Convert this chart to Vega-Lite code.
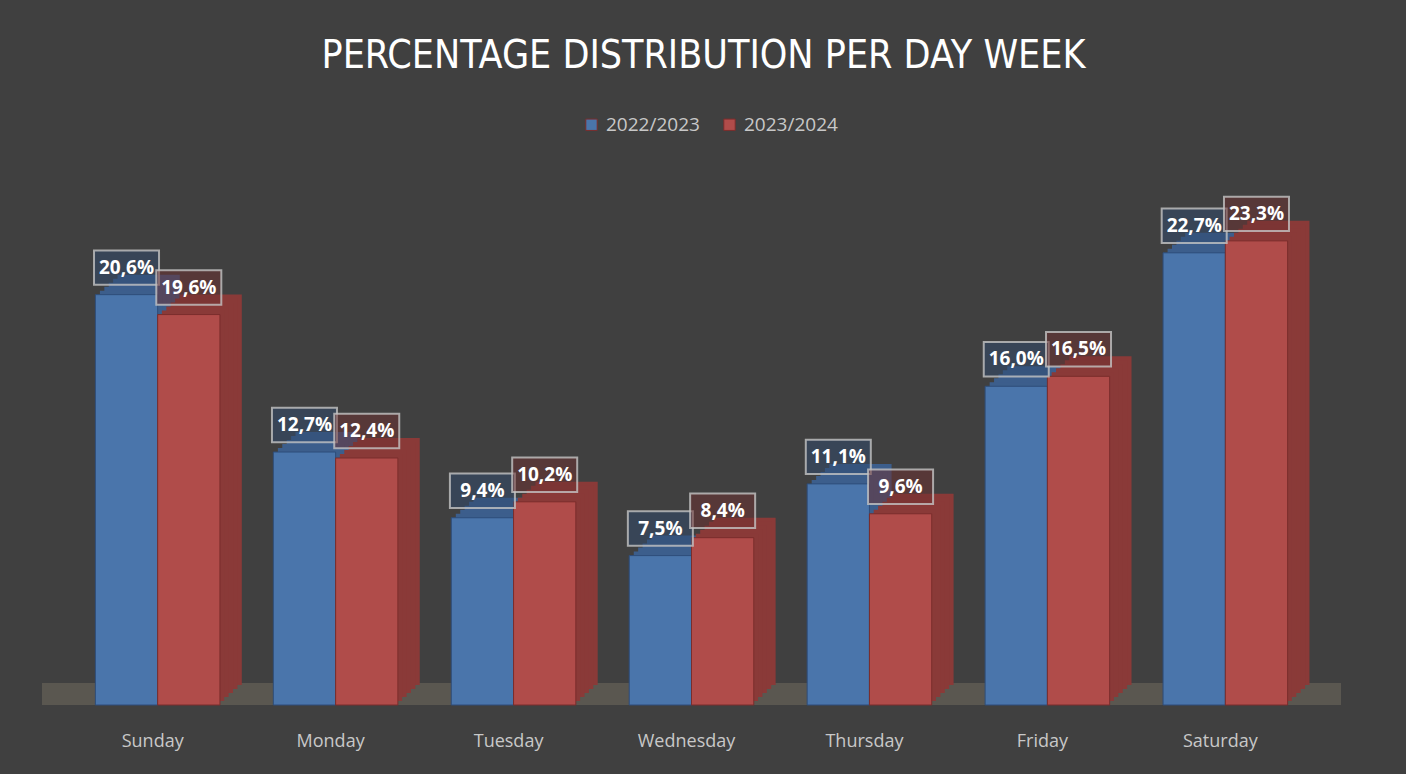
{
  "$schema": "https://vega.github.io/schema/vega-lite/v6.json",
  "autosize": {"type": "none"},
  "width": 1299,
  "height": 498,
  "padding": {"left": 42, "top": 207, "right": 65, "bottom": 69},
  "background": "#404040",
  "title": {
    "text": "PERCENTAGE DISTRIBUTION  PER DAY WEEK",
    "anchor": "middle",
    "color": "#ffffff",
    "font": "Liberation Sans Narrow, DejaVu Sans Condensed, Open Sans",
    "fontSize": 39,
    "fontWeight": "normal",
    "offset": 39,
    "dx": 12
  },
  "config": {
    "view": {"stroke": null},
    "locale": {"number": {"decimal": ",", "thousands": ".", "grouping": [3], "currency": ["", " €"]}}
  },
  "data": {
    "values": [
      {"day": "Sunday", "year": "2022/2023", "value": 0.206},
      {"day": "Sunday", "year": "2023/2024", "value": 0.196},
      {"day": "Monday", "year": "2022/2023", "value": 0.127},
      {"day": "Monday", "year": "2023/2024", "value": 0.124},
      {"day": "Tuesday", "year": "2022/2023", "value": 0.094},
      {"day": "Tuesday", "year": "2023/2024", "value": 0.102},
      {"day": "Wednesday", "year": "2022/2023", "value": 0.075},
      {"day": "Wednesday", "year": "2023/2024", "value": 0.084},
      {"day": "Thursday", "year": "2022/2023", "value": 0.111},
      {"day": "Thursday", "year": "2023/2024", "value": 0.096},
      {"day": "Friday", "year": "2022/2023", "value": 0.160},
      {"day": "Friday", "year": "2023/2024", "value": 0.165},
      {"day": "Saturday", "year": "2022/2023", "value": 0.227},
      {"day": "Saturday", "year": "2023/2024", "value": 0.233}
    ]
  },
  "encoding": {
    "x": {
      "field": "day",
      "type": "nominal",
      "sort": ["Sunday", "Monday", "Tuesday", "Wednesday", "Thursday", "Friday", "Saturday"],
      "scale": {"paddingInner": 0.3, "paddingOuter": 0.3},
      "axis": {
        "title": null,
        "domain": false,
        "ticks": false,
        "labelAngle": 0,
        "labelColor": "#c8c8c8",
        "labelFont": "Open Sans",
        "labelFontSize": 18,
        "labelPadding": 27,
        "labelOffset": -5
      }
    },
    "y": {
      "field": "value",
      "type": "quantitative",
      "scale": {"domain": [0, 0.25], "nice": false},
      "axis": null
    }
  },
  "layer": [
    {
      "data": {"values": [{"lo": 0, "hi": 0.011}]},
      "mark": {"type": "rect", "color": "#5a5750"},
      "encoding": {
        "x": null,
        "y": {"field": "lo", "type": "quantitative"},
        "y2": {"field": "hi"}
      }
    },
    {
      "transform": [{"filter": "datum.year === '2022/2023'"}],
      "mark": {"type": "bar", "width": {"band": 0.5}, "xOffset": -9, "yOffset": -20, "y2Offset": -20, "fill": "#3c5e8c"}
    },
    {
      "transform": [{"filter": "datum.year === '2022/2023'"}],
      "mark": {"type": "bar", "width": {"band": 0.5}, "xOffset": -13.4, "yOffset": -16, "y2Offset": -16, "fill": "#3c5e8c"}
    },
    {
      "transform": [{"filter": "datum.year === '2022/2023'"}],
      "mark": {"type": "bar", "width": {"band": 0.5}, "xOffset": -17.8, "yOffset": -12, "y2Offset": -12, "fill": "#3c5e8c"}
    },
    {
      "transform": [{"filter": "datum.year === '2022/2023'"}],
      "mark": {"type": "bar", "width": {"band": 0.5}, "xOffset": -22.2, "yOffset": -8, "y2Offset": -8, "fill": "#3c5e8c"}
    },
    {
      "transform": [{"filter": "datum.year === '2022/2023'"}],
      "mark": {"type": "bar", "width": {"band": 0.5}, "xOffset": -26.6, "yOffset": -4, "y2Offset": -4, "fill": "#3c5e8c"}
    },
    {
      "transform": [{"filter": "datum.year === '2023/2024'"}],
      "mark": {"type": "bar", "width": {"band": 0.5}, "xOffset": 53, "yOffset": -20, "y2Offset": -20, "fill": "#8a3a38"}
    },
    {
      "transform": [{"filter": "datum.year === '2023/2024'"}],
      "mark": {"type": "bar", "width": {"band": 0.5}, "xOffset": 48.6, "yOffset": -16, "y2Offset": -16, "fill": "#8a3a38"}
    },
    {
      "transform": [{"filter": "datum.year === '2023/2024'"}],
      "mark": {"type": "bar", "width": {"band": 0.5}, "xOffset": 44.2, "yOffset": -12, "y2Offset": -12, "fill": "#8a3a38"}
    },
    {
      "transform": [{"filter": "datum.year === '2023/2024'"}],
      "mark": {"type": "bar", "width": {"band": 0.5}, "xOffset": 39.8, "yOffset": -8, "y2Offset": -8, "fill": "#8a3a38"}
    },
    {
      "transform": [{"filter": "datum.year === '2023/2024'"}],
      "mark": {"type": "bar", "width": {"band": 0.5}, "xOffset": 35.4, "yOffset": -4, "y2Offset": -4, "fill": "#8a3a38"}
    },
    {
      "mark": {"type": "bar", "strokeWidth": 1},
      "encoding": {
        "xOffset": {"field": "year", "type": "nominal"},
        "color": {
          "field": "year",
          "type": "nominal",
          "scale": {"domain": ["2022/2023", "2023/2024"], "range": ["#4a75ab", "#b04c4a"]},
          "legend": {
            "title": null,
            "orient": "none",
            "legendX": 540,
            "legendY": -92,
            "direction": "horizontal",
            "symbolType": "square",
            "symbolSize": 130,
            "symbolStrokeWidth": 1,
            "labelColor": "#c8c8c8",
            "labelFont": "Open Sans",
            "labelFontSize": 19,
            "labelOffset": 5,
            "columnPadding": 20
          }
        },
        "stroke": {
          "condition": {"test": "datum.year === '2022/2023'", "value": "#2e4d7a"},
          "value": "#7a2d2c"
        }
      }
    },
    {
      "mark": {
        "type": "point",
        "shape": "M-1,-0.53H1V0.53H-1Z",
        "size": 4225,
        "filled": true,
        "fillOpacity": 0.5,
        "strokeWidth": 2,
        "strokeOpacity": 0.8,
        "yOffset": -27,
        "opacity": 1
      },
      "encoding": {
        "xOffset": {"field": "year", "type": "nominal"},
        "fill": {
          "condition": {"test": "datum.year === '2022/2023'", "value": "#2f4a6e"},
          "value": "#6e3030"
        },
        "stroke": {"value": "#c4c4c4"}
      }
    },
    {
      "mark": {
        "type": "text",
        "color": "#ffffff",
        "font": "Open Sans",
        "fontSize": 19,
        "fontWeight": "bold",
        "baseline": "middle",
        "align": "center",
        "dy": -27
      },
      "encoding": {
        "xOffset": {"field": "year", "type": "nominal"},
        "text": {"field": "value", "type": "quantitative", "format": ".1%"}
      }
    }
  ]
}
